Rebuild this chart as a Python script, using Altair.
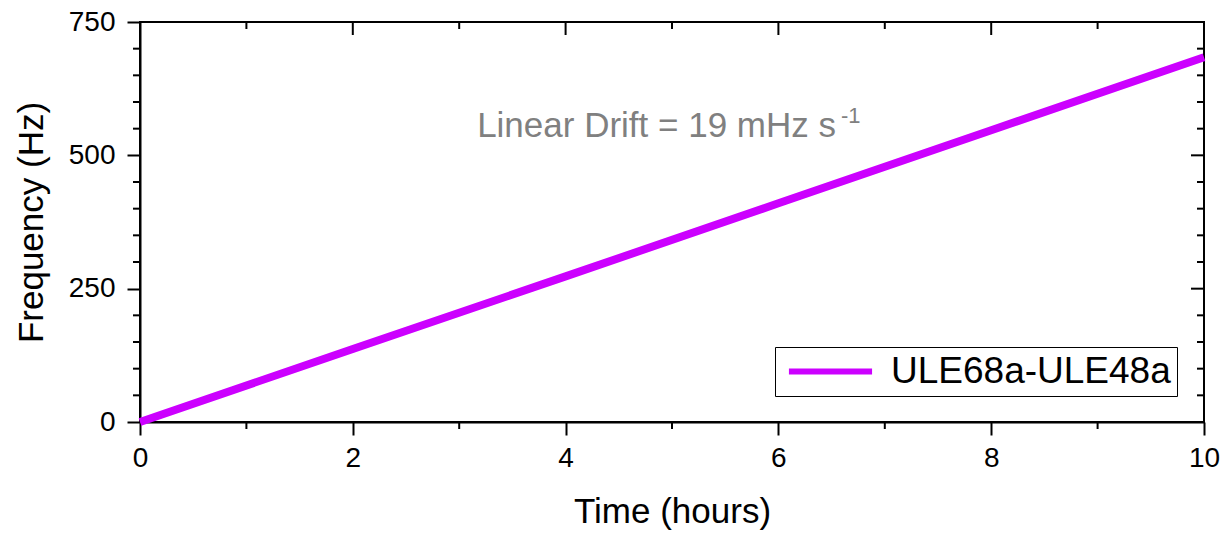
import altair as alt
import pandas as pd

# ---- data ----
hours = [0, 2, 4, 6, 8, 10]
freq_hz = [0, 137, 273, 410, 547, 684]
series_name = "ULE68a-ULE48a"

x_major = [0, 2, 4, 6, 8, 10]
x_minor = [1, 3, 5, 7, 9]
y_major = [0, 250, 500, 750]
y_minor = [50, 100, 150, 200, 300, 350, 400, 450, 550, 600, 650, 700]

annotation_main = "Linear Drift = 19 mHz s"
annotation_sup = "-1"

W, H = 1064, 400
FONT = "Liberation Sans"
LINE_COLOR = "#CC00FF"

df = pd.DataFrame({"hours": hours, "freq": freq_hz, "series": [series_name] * len(hours)})
xs = alt.Scale(domain=[0, 10], nice=False, zero=False)
ys = alt.Scale(domain=[0, 750], nice=False, zero=False)

SYM_SIZE = 432  # nominal symbol size; custom path spans 4x its radius

line = alt.Chart(df).mark_line(strokeWidth=8, strokeCap="butt").encode(
    x=alt.X("hours:Q", scale=xs,
            axis=alt.Axis(values=x_major, format="d", labelFlush=False,
                          title="Time (hours)", tickSize=13,
                          labelPadding=9, titleBaseline="alphabetic",
                          titleY=100, titleX=W / 2)),
    y=alt.Y("freq:Q", scale=ys,
            axis=alt.Axis(values=y_major, format="d", labelFlush=False,
                          title="Frequency (Hz)", tickSize=13,
                          labelPadding=12, titleBaseline="alphabetic",
                          titleX=-98, titleY=H / 2, titleAngle=270)),
    color=alt.Color("series:N",
                    scale=alt.Scale(domain=[series_name], range=[LINE_COLOR]),
                    legend=alt.Legend(title=None, orient="none", legendX=635, legendY=325,
                                      strokeColor="black", fillColor="white", padding=6,
                                      symbolType="M-4,0H4", symbolStrokeWidth=6,
                                      symbolSize=SYM_SIZE, symbolOffset=31,
                                      labelFontSize=37, labelFont=FONT, labelLimit=0,
                                      labelOffset=42, labelColor="black")),
)

dxmaj = pd.DataFrame({"hours": x_major})
dxmin = pd.DataFrame({"hours": x_minor})
dymaj = pd.DataFrame({"freq": y_major})
dymin = pd.DataFrame({"freq": y_minor})

def xrule(d, y0, y1):
    return alt.Chart(d).mark_rule(color="black", strokeWidth=2).encode(
        x=alt.X("hours:Q", scale=xs), y=alt.value(y0), y2=alt.value(y1))

def yrule(d, x0, x1):
    return alt.Chart(d).mark_rule(color="black", strokeWidth=2).encode(
        y=alt.Y("freq:Q", scale=ys), x=alt.value(x0), x2=alt.value(x1))

ticks = [
    xrule(dxmin, H, H + 7),          # bottom minor (outward)
    yrule(dymin, -7, 0),             # left minor (outward)
    xrule(dxmaj, 0, 13),             # top major (inward)
    xrule(dxmin, 0, 7),              # top minor (inward)
    yrule(dymaj, W - 13, W),         # right major (inward)
    yrule(dymin, W - 7, W),          # right minor (inward)
]

ann = pd.DataFrame({"t": [annotation_main], "s": [annotation_sup]})
txt_main = alt.Chart(ann).mark_text(align="right", baseline="alphabetic", font=FONT,
                                    fontSize=35, color="#808080").encode(
    text="t:N", x=alt.value(696), y=alt.value(115))
txt_sup = alt.Chart(ann).mark_text(align="left", baseline="alphabetic", font=FONT,
                                   fontSize=22, color="#808080").encode(
    text="s:N", x=alt.value(701), y=alt.value(101))

chart = alt.layer(line, *ticks, txt_main, txt_sup).properties(
    width=W, height=H,
    autosize=alt.AutoSizeParams(type="none"),
    padding={"left": 140, "top": 22, "right": 26, "bottom": 111},
).configure_view(
    stroke="black", strokeWidth=2
).configure_axis(
    domainColor="black", domainWidth=2, tickColor="black", tickWidth=2,
    labelFont=FONT, labelFontSize=28, labelColor="black",
    titleFont=FONT, titleFontSize=35, titleFontWeight="normal", titleColor="black",
    grid=False,
)

chart.save("out.html", embed_options={"renderer": "svg", "actions": False})
